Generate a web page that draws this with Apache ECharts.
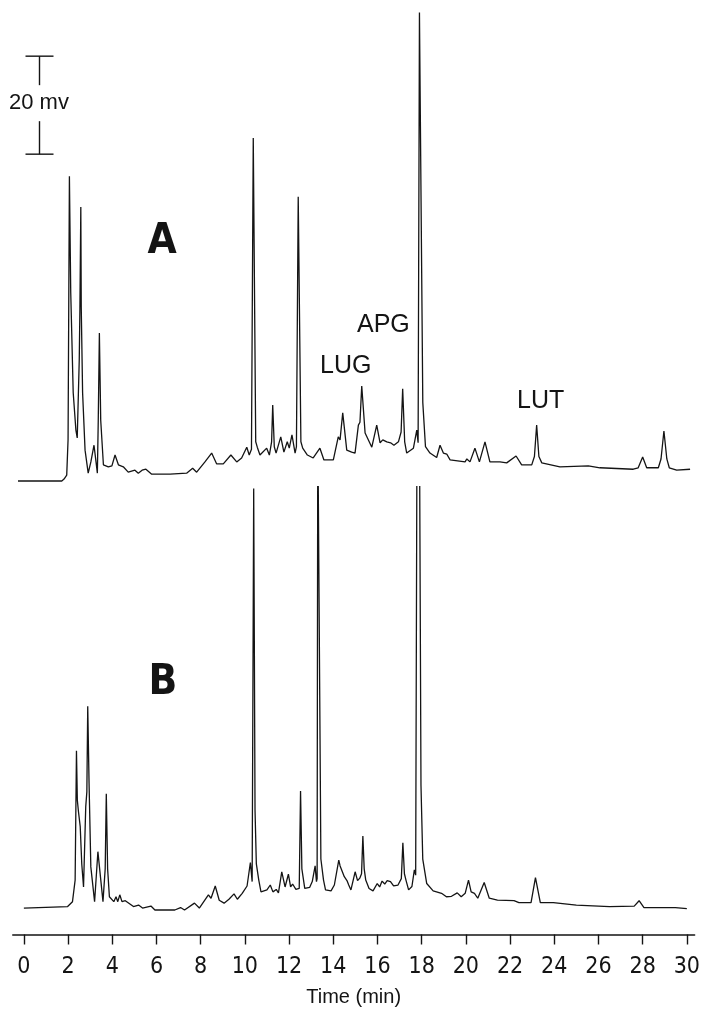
<!DOCTYPE html>
<html lang="en">
<head>
<meta charset="UTF-8">
<title>Chromatogram A / B</title>
<style>
    *{margin:0; padding:0;}
    html,body{width:100%; height:100%; background:#fff;}
    #chart{width:703px; height:1009px;}
</style>
</head>
<body>
<div id="chart"></div>
<script src="https://cdn.jsdelivr.net/npm/echarts@6/dist/echarts.min.js"></script>
<script>
// trace A (time in min, signal in mV)
var timeA = [-0.27,1.69,1.79,1.91,1.97,2.03,2.09,2.20,2.32,2.38,2.47,2.50,2.54,2.56,2.62,2.73,2.87,2.99,3.13,3.22,
    3.28,3.32,3.37,3.43,3.55,3.77,3.93,4.07,4.22,4.44,4.66,4.96,5.11,5.28,5.45,5.71,6.53,7.27,7.54,7.72,
    8.09,8.39,8.61,8.91,9.25,9.51,9.73,9.96,10.07,10.17,10.25,10.36,10.43,10.55,10.85,10.97,11.07,11.12,11.19,11.27,
    11.48,11.62,11.77,11.86,11.98,12.12,12.18,12.26,12.38,12.46,12.67,12.93,13.23,13.41,13.83,14.05,14.13,14.25,14.43,14.65,
    14.80,14.95,15.02,15.10,15.25,15.55,15.77,15.92,16.04,16.22,16.39,16.54,16.74,16.86,16.93,17.02,17.11,17.41,17.56,17.62,
    17.68,17.83,17.95,18.15,18.45,18.60,18.75,18.90,19.05,19.72,19.80,19.94,20.16,20.36,20.61,20.83,21.28,21.58,22.00,22.25,
    22.70,22.82,22.92,23.02,23.15,23.96,25.23,25.75,27.24,27.46,27.66,27.84,28.36,28.48,28.61,28.74,28.85,29.18,29.78];
var signalA = [0,0,0.4,1.2,8.4,62.2,38.4,18,10.4,8.8,24.7,35.3,55.9,35.3,18,6.3,1.6,3.9,7.3,3.9,
    1.6,12.4,30.2,12.4,3.3,2.9,3.1,5.3,3.3,2.9,1.8,2.2,1.6,2.2,2.4,1.4,1.4,1.6,2.6,1.8,
    3.9,5.7,3.5,3.5,5.3,3.9,4.7,6.9,5.3,6.5,70.0,8,6.9,5.3,6.7,5.3,8,15.5,7,5.7,
    9.0,5.9,8.0,6.7,9.4,5.7,7,58.0,8,6.7,5.3,4.7,6.7,4.3,4.3,9.0,8.4,13.9,6.3,5.9,
    5.7,11.4,12,19.4,9.8,6.9,11.4,7.8,8.4,8.0,7.8,7.3,8.0,10,18.8,8,5.7,6.7,10.4,7.8,
    95.6,16,7,5.7,4.8,7.3,5.7,5.5,4.3,3.9,4.5,3.9,6.7,3.9,8.0,3.9,3.9,3.7,5.1,3.3,
    3.3,5,11.4,5,3.7,2.9,3.1,2.7,2.4,2.7,4.9,2.7,2.7,4.5,10.2,4.5,2.7,2.2,2.4];

// trace B
var timeB = [0,1.98,2.20,2.32,2.38,2.42,2.47,2.55,2.62,2.70,2.80,2.85,2.89,2.95,3.03,3.20,3.35,3.58,3.68,3.73,
    3.79,3.87,4.07,4.17,4.25,4.34,4.44,4.59,4.96,5.19,5.37,5.75,5.93,6.83,7.09,7.27,7.72,7.94,8.35,8.47,
    8.66,8.84,9.06,9.28,9.51,9.66,9.88,10.10,10.25,10.33,10.40,10.46,10.52,10.63,10.73,11.00,11.15,11.27,11.42,11.52,
    11.67,11.82,11.97,12.07,12.16,12.31,12.46,12.52,12.58,12.71,12.93,13.05,13.18,13.24,13.27,13.30,13.38,13.44,13.56,13.65,
    13.90,14.05,14.25,14.31,14.40,14.50,14.62,14.70,14.80,14.99,15.10,15.20,15.28,15.34,15.40,15.47,15.62,15.80,15.99,16.10,
    16.21,16.33,16.44,16.59,16.73,16.93,17.08,17.15,17.22,17.29,17.41,17.56,17.67,17.73,17.79,17.90,17.97,18.05,18.23,18.52,
    18.90,19.12,19.35,19.61,19.79,19.97,20.12,20.24,20.39,20.54,20.83,21.06,21.43,22.18,22.40,22.95,23.15,23.37,23.96,25.00,
    26.50,27.62,27.84,28.06,29.48,30.00];
var signalB = [0,0.3,1.3,5.7,32.1,22,19.7,16.6,9,4.3,20.7,23.7,41.2,25.5,8.4,1.3,11.5,1.3,8,23.3,
    8,2.3,1.3,2.3,1.3,2.7,1.3,1.5,0.3,0.6,0,0.4,-0.4,-0.4,0.1,-0.4,1.0,0,2.7,2.0,
    4.5,1.6,1.0,1.8,2.9,1.8,3.0,4.5,9.3,5.4,85.6,20,9,5.7,3.3,3.7,4.7,3.3,3.8,3.1,
    7.4,4.3,6.9,4.3,4.9,3.8,4.0,23.9,8,4.0,4.2,5.4,8.6,5.4,6,100,100,10,5.7,3.7,
    3.5,4.7,9.8,8.6,9.0,6.4,5.6,4.7,3.7,7.4,5.6,6.1,7,14.7,8,5.7,4.0,3.5,5.0,4.3,
    5.5,4.9,5.6,5.4,4.5,4.7,6,13.3,7,5.7,3.7,4.4,7.8,6.7,100,100,25,10,5,3.5,
    3.0,2.3,2.4,3.1,2.3,3.0,5.7,3.3,3.0,2.0,5.2,2.0,1.6,1.5,1.1,1.1,6.2,1.1,1.1,0.6,
    0.3,0.4,1.5,0.1,0.1,-0.1];

var tickValues = [0,2,4,6,8,10,12,14,16,18,20,22,24,26,28,30];
var peakNames = ['LUG','APG','LUT'];
var scaleBarMv = 20;

function zip(t, v){
    var out = [];
    for (var i = 0; i < t.length; i++) out.push([t[i], v[i]]);
    return out;
}

var pxPerMin = 22.367, pxPerMv = 4.9;
var xMin = -0.5, xMax = 30.35;
var gridLeft = 24 + xMin * pxPerMin;
var gridWidth = (xMax - xMin) * pxPerMin;
var yA = [-2, 98], yB = [-5.4, 86];
var baseA = 481, axisY = 934.5;
var hA = (yA[1] - yA[0]) * pxPerMv;
var hB = (yB[1] - yB[0]) * pxPerMv;

var ink = '#141414';
var labelFont = '"Liberation Sans Narrow", "DejaVu Sans Condensed", sans-serif';
var sans = '"Liberation Sans", Arial, sans-serif';

var trace = {
    type: 'line', showSymbol: false, symbol: 'none', smooth: false,
    lineStyle: {color: ink, width: 1.3}, animation: false, silent: true
};

var option = {
    backgroundColor: '#fff',
    animation: false,
    grid: [
        {left: gridLeft, width: gridWidth, top: baseA - yA[0] * pxPerMv - hA, height: hA},
        {left: gridLeft, width: gridWidth, top: axisY - hB, height: hB}
    ],
    xAxis: [
        {gridIndex: 0, type: 'value', min: xMin, max: xMax, show: false},
        {
            gridIndex: 1, type: 'value', min: xMin, max: xMax,
            axisLine: {show: true, onZero: false, lineStyle: {color: ink, width: 1.6}},
            axisTick: {show: true, customValues: tickValues, length: 10, lineStyle: {color: ink, width: 1.4}},
            axisLabel: {customValues: tickValues, margin: 21, fontSize: 23, fontFamily: labelFont, color: ink},
            splitLine: {show: false},
            name: 'Time (min)', nameLocation: 'middle', nameGap: 63,
            nameTextStyle: {fontSize: 20, fontFamily: sans, color: ink, verticalAlign: 'middle'}
        }
    ],
    yAxis: [
        {gridIndex: 0, type: 'value', min: yA[0], max: yA[1], show: false},
        {gridIndex: 1, type: 'value', min: yB[0], max: yB[1], show: false}
    ],
    series: [
        Object.assign({name: 'A', xAxisIndex: 0, yAxisIndex: 0, data: zip(timeA, signalA)}, trace),
        Object.assign({name: 'B', xAxisIndex: 1, yAxisIndex: 1, data: zip(timeB, signalB)}, trace)
    ]
};

var myChart = echarts.init(document.getElementById('chart'), null, {renderer: 'canvas'});
myChart.setOption(option);

// scale bar: 20 mV measured on trace A's own axis
var barBottom = myChart.convertToPixel({gridIndex: 0}, [0.67, 66.7]);
var barTop = myChart.convertToPixel({gridIndex: 0}, [0.67, 66.7 + scaleBarMv]);
var bx = Math.round(barBottom[0]) + 0.5;
var midY = (barTop[1] + barBottom[1]) / 2;
var bold = 'bold 42px ' + labelFont;
var seg = function(x1, y1, x2, y2){
    return {type: 'line', shape: {x1: x1, y1: y1, x2: x2, y2: y2}, style: {stroke: ink, lineWidth: 1.4}, silent: true};
};

myChart.setOption({
    graphic: [
        seg(bx, barTop[1], bx, midY - 20),
        seg(bx, midY + 16, bx, barBottom[1]),
        seg(bx - 14, barTop[1], bx + 14, barTop[1]),
        seg(bx - 14, barBottom[1], bx + 14, barBottom[1]),
        {type: 'text', left: 9, top: midY - 13, style: {text: scaleBarMv + ' mv', font: '22px ' + sans, fill: ink}},
        {type: 'text', x: 162, y: 242, style: {text: 'A', font: bold, fill: ink, align: 'center', verticalAlign: 'middle'}},
        {type: 'text', x: 163, y: 683, style: {text: 'B', font: bold, fill: ink, align: 'center', verticalAlign: 'middle'}},
        {type: 'text', x: 320, y: 366, style: {text: peakNames[0], font: '25px ' + sans, fill: ink, verticalAlign: 'middle'}},
        {type: 'text', x: 357, y: 325, style: {text: peakNames[1], font: '25px ' + sans, fill: ink, verticalAlign: 'middle'}},
        {type: 'text', x: 517, y: 401, style: {text: peakNames[2], font: '25px ' + sans, fill: ink, verticalAlign: 'middle'}}
    ]
});
</script>
</body>
</html>
